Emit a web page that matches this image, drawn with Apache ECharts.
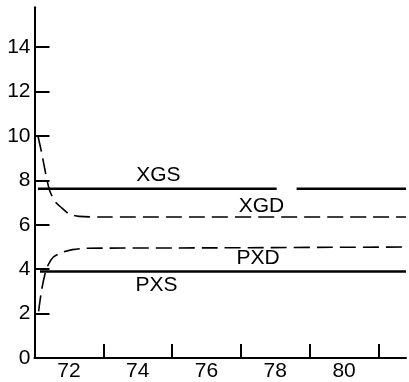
<!DOCTYPE html>
<html><head><meta charset="utf-8">
<script src="https://cdn.jsdelivr.net/npm/echarts@6/dist/echarts.min.js"></script>
<style>html,body{margin:0;padding:0;background:#fff}#c{width:409px;height:382px}</style>
</head><body><div id="c"></div>
<script>
const xLabelYears = [72, 74, 76, 78, 80];
const xTickYears = [73, 75, 77, 79, 81];
const yTicks = [0, 2, 4, 6, 8, 10, 12, 14];

const xgs = [[71.1, 7.62], [78.04, 7.62], [78.3, '-'], [78.62, 7.62], [81.8, 7.62]];
const pxs = [[71.16, 3.9], [81.8, 3.9]];
const xgd = [[71.1, 10.0], [71.2, 9.3], [71.3, 8.5], [71.38, 7.9], [71.45, 7.5], [71.6, 7.05], [71.8, 6.75], [72.0, 6.5], [72.3, 6.38], [73.0, 6.35], [81.8, 6.35]];
const pxd = [[71.12, 2.1], [71.2, 3.0], [71.3, 3.75], [71.4, 4.2], [71.55, 4.55], [71.8, 4.75], [72.1, 4.88], [72.5, 4.94], [76.0, 4.96], [81.8, 5.0]];
const seriesLabels = [
  { name: 'XGS', pos: [74.6, 8.22] },
  { name: 'XGD', pos: [77.6, 6.85] },
  { name: 'PXD', pos: [77.5, 4.5] },
  { name: 'PXS', pos: [74.55, 3.29] }
];

const ink = '#000';
const font = '"Liberation Sans", Arial, sans-serif';
const chart = echarts.init(document.getElementById('c'));
chart.setOption({
  animation: false,
  grid: { left: 34.5, right: 3, top: 7.2, bottom: 24 },
  xAxis: {
    type: 'value', min: 71, max: 81.8,
    axisLine: { show: true, lineStyle: { color: ink, width: 2 } },
    axisTick: { show: true, inside: true, length: 14, customValues: xTickYears, lineStyle: { color: ink, width: 2 } },
    axisLabel: { customValues: xLabelYears, color: ink, fontSize: 21, fontFamily: font, margin: 3 },
    splitLine: { show: false }
  },
  yAxis: {
    type: 'value', min: 0, max: 15.8,
    axisLine: { show: true, lineStyle: { color: ink, width: 2 } },
    axisTick: { show: true, inside: true, length: 15, customValues: yTicks, lineStyle: { color: ink, width: 2 } },
    axisLabel: { customValues: yTicks, color: ink, fontSize: 21, fontFamily: font, margin: 4 },
    splitLine: { show: false }
  },
  series: [
    { type: 'line', data: xgs, symbol: 'none', connectNulls: false, lineStyle: { color: ink, width: 2.5 } },
    { type: 'line', data: pxs, symbol: 'none', lineStyle: { color: ink, width: 2.5 } },
    { type: 'line', data: xgd, symbol: 'none', smooth: 0.3, lineStyle: { color: ink, width: 1.6, type: [16, 7] } },
    { type: 'line', data: pxd, symbol: 'none', smooth: 0.3, lineStyle: { color: ink, width: 1.6, type: [16, 7] } },
    {
      type: 'scatter', symbolSize: 0, silent: true,
      itemStyle: { opacity: 1, color: ink },
      data: seriesLabels.map(d => ({ value: d.pos, name: d.name })),
      label: { show: true, position: 'inside', formatter: p => p.name, color: ink, opacity: 1, textBorderWidth: 0, fontSize: 21, fontFamily: font }
    }
  ]
});
</script></body></html>
